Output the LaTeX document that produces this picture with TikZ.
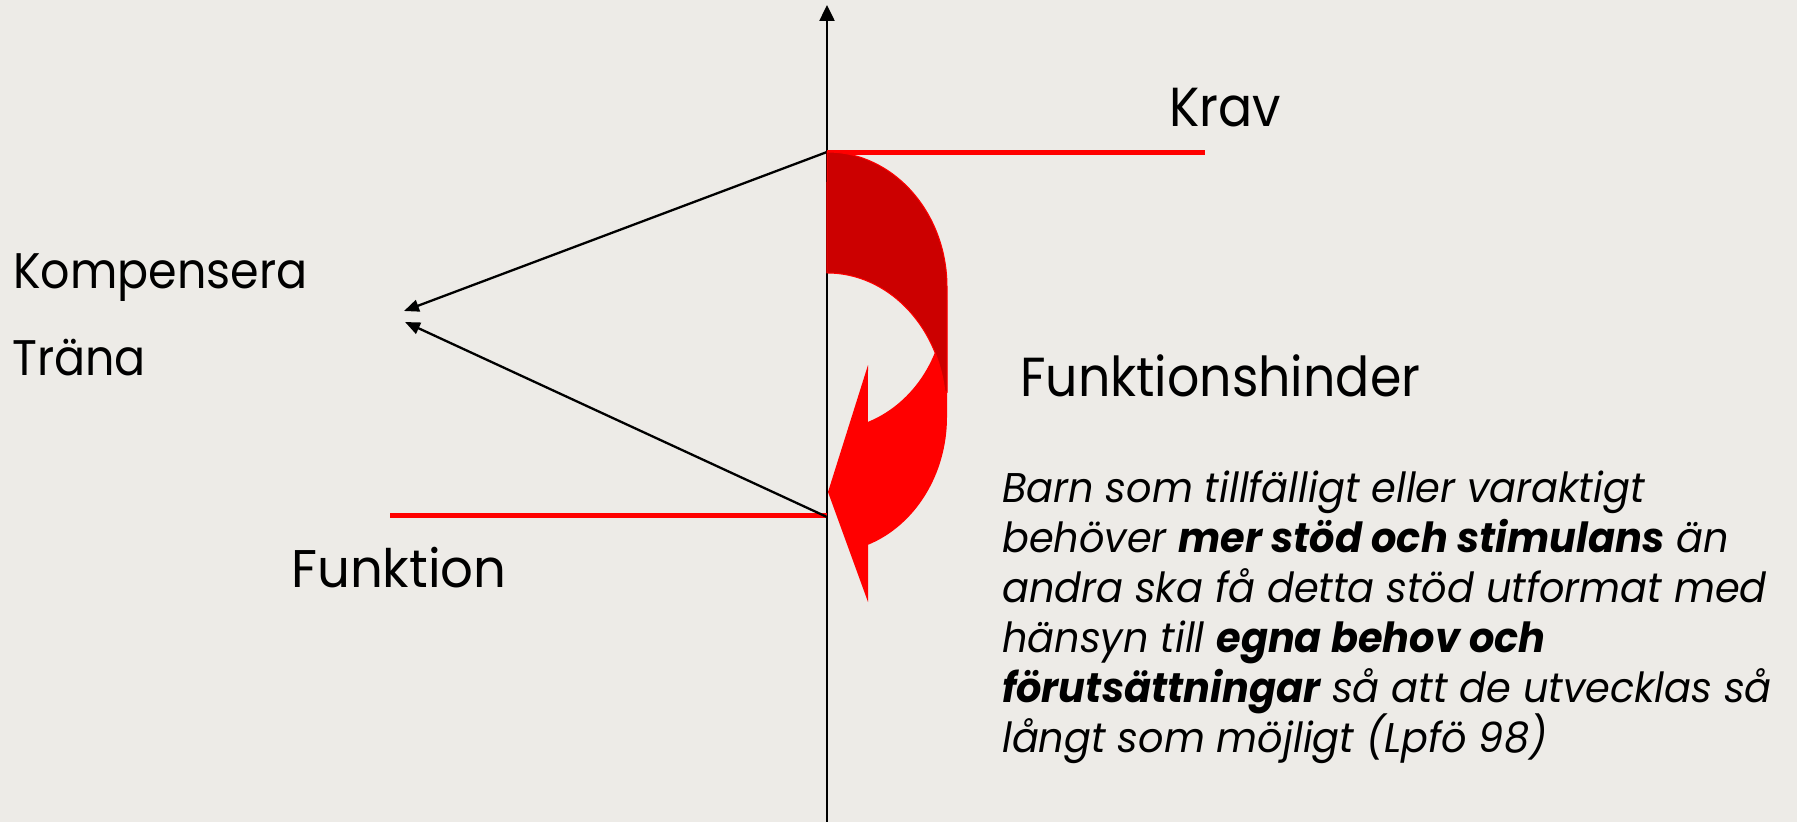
\documentclass[tikz,border=0pt]{standalone}
\usepackage{fontspec}
\setmainfont{Poppins}
\newfontfamily\labf[FakeStretch=0.92]{Poppins}
\newfontfamily\funkf[FakeStretch=0.97]{Poppins}
\newfontfamily\paraf[FakeStretch=0.96]{Poppins}
\usetikzlibrary{arrows.meta}
\definecolor{bg}{HTML}{EDEBE7}
\definecolor{darkred}{HTML}{CC0000}
\definecolor{brightred}{HTML}{FF0000}
\tikzset{
  lbl/.style={anchor=base west,inner sep=0pt,text=black},
  big/.style={lbl,font=\labf\fontsize{55bp}{60bp}\selectfont},
  mid/.style={lbl,font=\labf\fontsize{50bp}{55bp}\selectfont},
  funkstyle/.style={lbl,font=\funkf\fontsize{53bp}{58bp}\selectfont},
  para/.style={lbl,font=\paraf\fontsize{41.5bp}{46bp}\selectfont\itshape},
  redline/.style={draw=brightred,line width=5bp},
  blackarrow/.style={draw=black,line width=2.3bp,-{Triangle[length=15bp,width=12bp]}},
}
\begin{document}
\begin{tikzpicture}[x=1bp,y=-1bp]
\fill[bg] (0,0) rectangle (1797,822);
\useasboundingbox (0,0) rectangle (1797,822);
% key points
\coordinate (axbot) at (827,822);
\coordinate (axtop) at (827,5);
\coordinate (kravL) at (827,152);
\coordinate (kravR) at (1205,152);
\coordinate (funkL) at (390,515);
\coordinate (funkR) at (827,515);
\coordinate (lowstart) at (827,517);
\coordinate (tipA) at (404,311);
\coordinate (tipB) at (405,322);
% axis
\draw[line width=2.5bp,-{Triangle[length=16bp,width=15bp]}] (axbot) -- (axtop);
% red lines
\draw[redline] (kravL) -- (kravR);
\draw[redline] (funkL) -- (funkR);
% black arrows
\draw[blackarrow] (kravL) -- (tipA);
\draw[blackarrow] (lowstart) -- (tipB);
% curved arrow: bright part
\fill[brightred] (947,300) -- (947,417)
  arc[start angle=0,end angle=70,x radius=120,y radius=136]
  -- (868,602) -- (828,492) -- (868,365) -- (867.9,421.9)
  arc[start angle=69.7,end angle=0,x radius=118,y radius=130] -- cycle;
% curved arrow: dark part
\filldraw[fill=darkred,draw=brightred,line width=1bp] (kravL)
  arc[start angle=-90,end angle=0,x radius=120,y radius=135]
  -- (947,392) -- (944.8,390.9)
  arc[start angle=-8,end angle=-90,x radius=119,y radius=137] -- cycle;
% labels
\node[big] (krav) at (1169,126) {Krav};
\node[big] (fh) at (1020,396) {Funktionshinder};
\node[funkstyle] (funk) at (291,587) {Funktion};
\node[mid] (komp) at (13,288) {Kompensera};
\node[mid] (trana) at (12,375) {Träna};
\node[para] (p1) at (1002,502) {Barn som tillfälligt eller varaktigt};
\node[para] (p2) at (1002,552) {behöver \textbf{mer stöd och stimulans} än};
\node[para] (p3) at (1002,602) {andra ska få detta stöd utformat med};
\node[para] (p4) at (1002,652) {hänsyn till \textbf{egna behov och}};
\node[para] (p5) at (1002,702) {\textbf{förutsättningar} så att de utvecklas så};
\node[para] (p6) at (1002,752) {långt som möjligt (Lpfö 98)};
\end{tikzpicture}
\end{document}
